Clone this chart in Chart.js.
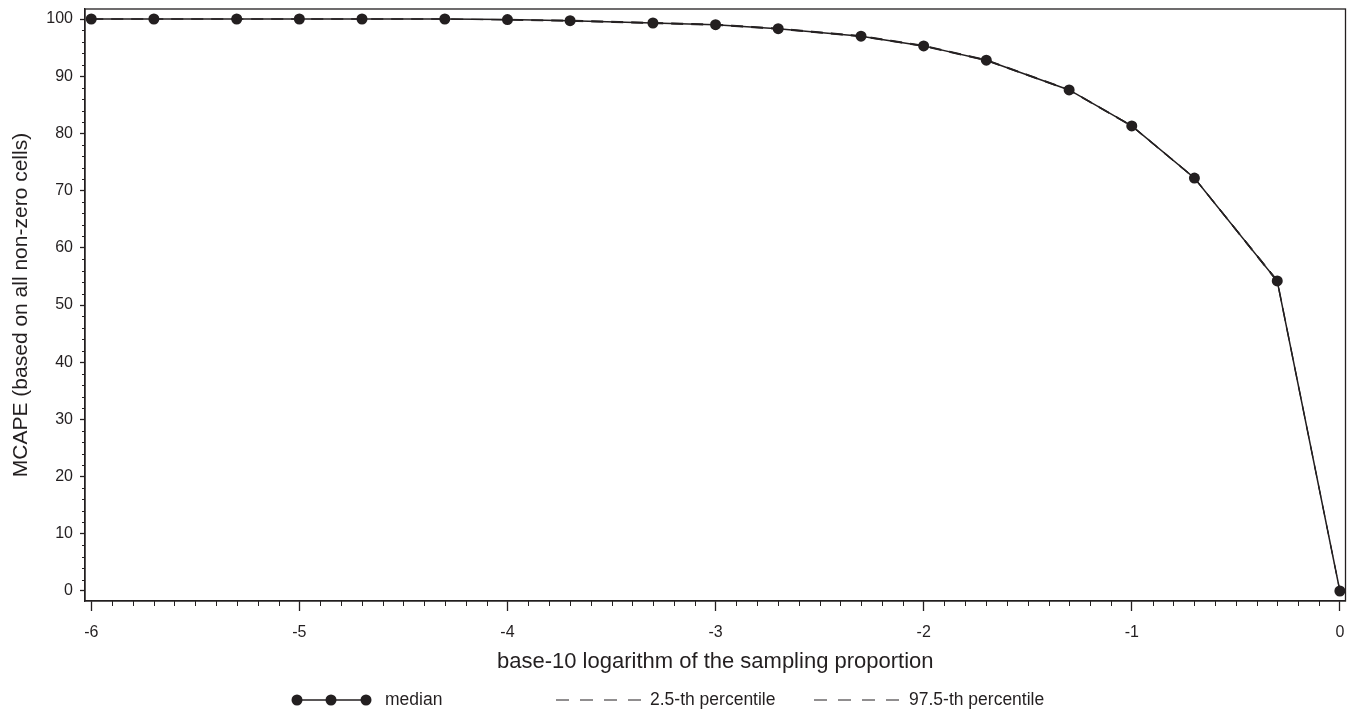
<!DOCTYPE html>
<html>
<head>
<meta charset="utf-8">
<script src="https://cdn.jsdelivr.net/npm/chart.js@4.4.1/dist/chart.umd.min.js"></script>
<style>
  html, body { margin: 0; padding: 0; background: #fff; }
  #wrap { width: 1351px; height: 711px; }
</style>
</head>
<body>
<div id="wrap"><canvas id="chart" width="1351" height="711"></canvas></div>
<script>
// log10 of the sampling proportion (1e-6, 2e-6, 5e-6, ... 1)
const logProportion = [-6, -5.699, -5.301, -5, -4.699, -4.301, -4, -3.699, -3.301, -3,
  -2.699, -2.301, -2, -1.699, -1.301, -1, -0.699, -0.301, 0];
const median = [100, 100, 100, 100, 100, 100, 99.9, 99.7, 99.3, 99.0,
  98.3, 97.0, 95.3, 92.8, 87.6, 81.3, 72.2, 54.2, 0];
const pct025 = [100, 100, 100, 100, 100, 100, 99.8, 99.6, 99.2, 98.9,
  98.2, 96.9, 95.2, 92.7, 87.5, 81.2, 72.1, 54.0, 0];
const pct975 = [100, 100, 100, 100, 100, 100, 99.9, 99.8, 99.4, 99.1,
  98.4, 97.1, 95.4, 92.9, 87.7, 81.4, 72.3, 54.4, 0];
const xTicks = [-6, -5, -4, -3, -2, -1, 0];
const yTicks = [0, 10, 20, 30, 40, 50, 60, 70, 80, 90, 100];

const ink = '#231f20';
const fontFamily = '"Liberation Sans", Arial, Helvetica, sans-serif';

function pts(ys) {
  return logProportion.map((x, i) => ({ x: x, y: ys[i] }));
}

// keep the plot frame where the figure has it
function noPadding(s) {
  s.paddingLeft = 0; s.paddingRight = 0; s.paddingTop = 0; s.paddingBottom = 0;
}

// frame, minor ticks, axis titles and the legend under the plot
const decorations = {
  id: 'decorations',
  afterDraw(chart) {
    const ctx = chart.ctx;
    const a = chart.chartArea;
    const xs = chart.scales.x, ys = chart.scales.y;
    ctx.save();
    ctx.strokeStyle = ink;
    ctx.lineWidth = 1.3;
    ctx.strokeRect(a.left, a.top, a.right - a.left, a.bottom - a.top);

    // minor ticks
    ctx.lineWidth = 1;
    ctx.beginPath();
    for (let i = -60; i <= 0; i++) {
      if (i % 10 === 0) continue;
      const px = Math.round(xs.getPixelForValue(i / 10)) + 0.5;
      ctx.moveTo(px, a.bottom);
      ctx.lineTo(px, a.bottom + 5);
    }
    for (let v = 0; v <= 100; v += 2) {
      if (v % 10 === 0) continue;
      const py = Math.round(ys.getPixelForValue(v)) + 0.5;
      ctx.moveTo(a.left, py);
      ctx.lineTo(a.left - 3, py);
    }
    ctx.stroke();

    // axis titles
    ctx.fillStyle = ink;
    ctx.textAlign = 'center';
    ctx.textBaseline = 'middle';
    ctx.font = '22px ' + fontFamily;
    ctx.fillText('base-10 logarithm of the sampling proportion', (a.left + a.right) / 2, 662);
    ctx.save();
    ctx.translate(21, (a.top + a.bottom) / 2);
    ctx.rotate(-Math.PI / 2);
    ctx.font = '21px ' + fontFamily;
    ctx.fillText('MCAPE (based on all non-zero cells)', 0, 0);
    ctx.restore();

    // legend
    const ly = 700;
    ctx.font = '17.5px ' + fontFamily;
    ctx.textAlign = 'left';
    ctx.lineWidth = 1.5;
    ctx.setLineDash([]);
    ctx.beginPath();
    ctx.moveTo(293, ly); ctx.lineTo(370, ly);
    ctx.stroke();
    [297, 331, 366].forEach(cx => {
      ctx.beginPath();
      ctx.arc(cx, ly, 5.5, 0, Math.PI * 2);
      ctx.fill();
    });
    ctx.fillText('median', 385, ly);

    ctx.lineWidth = 1;
    ctx.setLineDash([13, 11]);
    [[556, 642, '2.5-th percentile', 650], [814, 901, '97.5-th percentile', 909]].forEach(l => {
      ctx.beginPath();
      ctx.moveTo(l[0], ly); ctx.lineTo(l[1], ly);
      ctx.stroke();
      ctx.fillText(l[2], l[3], ly);
    });
    ctx.restore();
  }
};

const chart = new Chart(document.getElementById('chart').getContext('2d'), {
  type: 'line',
  data: {
    datasets: [
      {
        label: 'median',
        data: pts(median),
        borderColor: ink,
        backgroundColor: ink,
        borderWidth: 1.5,
        pointRadius: 5.5,
        pointBackgroundColor: ink,
        pointBorderWidth: 0,
        tension: 0,
        order: 3
      },
      {
        label: '2.5-th percentile',
        data: pts(pct025),
        borderColor: ink,
        borderWidth: 1,
        borderDash: [12, 8],
        pointRadius: 0,
        tension: 0,
        order: 2
      },
      {
        label: '97.5-th percentile',
        data: pts(pct975),
        borderColor: ink,
        borderWidth: 1,
        borderDash: [12, 8],
        pointRadius: 0,
        tension: 0,
        order: 1
      }
    ]
  },
  options: {
    responsive: false,
    animation: false,
    events: [],
    layout: { padding: { left: 0, right: 4, top: 9, bottom: 0 } },
    plugins: {
      legend: { display: false },
      tooltip: { enabled: false }
    },
    scales: {
      x: {
        type: 'linear',
        min: -6.03,
        max: 0.027,
        afterBuildTicks: s => { s.ticks = xTicks.map(v => ({ value: v })); },
        afterFit: s => { s.height = 110; noPadding(s); },
        ticks: { color: ink, font: { family: fontFamily, size: 16 }, padding: 12, maxRotation: 0 },
        grid: { drawOnChartArea: false, tickLength: 10, tickColor: ink, tickWidth: 1.3 },
        border: { display: true, color: ink, width: 1.3 }
      },
      y: {
        min: -1.75,
        max: 101.75,
        afterBuildTicks: s => { s.ticks = yTicks.map(v => ({ value: v })); },
        afterFit: s => { s.width = 85; noPadding(s); },
        ticks: { color: ink, font: { family: fontFamily, size: 16 }, padding: 7 },
        grid: { drawOnChartArea: false, tickLength: 5, tickColor: ink, tickWidth: 1.3 },
        border: { display: true, color: ink, width: 1.3 }
      }
    }
  },
  plugins: [decorations]
});
</script>
</body>
</html>
